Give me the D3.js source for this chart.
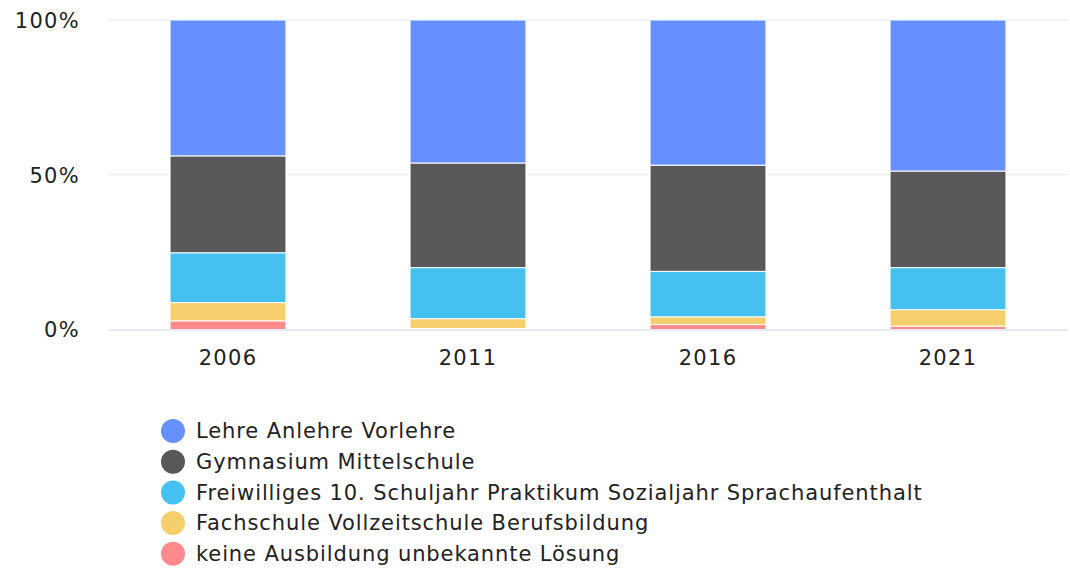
<!DOCTYPE html>
<html><head><meta charset="utf-8">
<script src="https://cdn.jsdelivr.net/npm/d3@7"></script>
<style>body{margin:0;background:#fff;} text{font-family:"DejaVu Sans",sans-serif;fill:#222;}</style>
</head><body><svg id="c" width="1070" height="570"></svg>
<script>
const categories = ["2006","2011","2016","2021"];
const seriesNames = ["Lehre Anlehre Vorlehre","Gymnasium Mittelschule","Freiwilliges 10. Schuljahr Praktikum Sozialjahr Sprachaufenthalt","Fachschule Vollzeitschule Berufsbildung","keine Ausbildung unbekannte Lösung"];
const lehre = [43.9, 46.2, 46.9, 48.8];
const gymnasium = [31.3, 33.8, 34.3, 31.2];
const freiwillig = [16.1, 16.5, 14.7, 13.6];
const fachschule = [5.9, 3.2, 2.5, 5.3];
const keine = [2.8, 0.3, 1.6, 1.1];
const colors = ["#6690ff","#58585a","#44c1f0","#f5cf6b","#ff8a8a"];
const yTicks = [0, 50, 100];

(function(){
const FONT = "DejaVu Sans";
const seriesVals = [lehre, gymnasium, freiwillig, fachschule, keine];
const rows = categories.map((c,i)=>{const o={cat:c}; seriesNames.forEach((s,j)=>o[s]=seriesVals[j][i]); return o;});
const stackOrder = seriesNames.slice().reverse();
const stack = d3.stack().keys(stackOrder).offset(d3.stackOffsetExpand)(rows);

const svg = d3.select("#c");
const pLeft=108, pRight=1068, pTop=20, pBottom=329.5;
const x = d3.scaleBand().domain(categories).range([pLeft,pRight]).paddingInner(0.517).paddingOuter(0.2585);
const y = d3.scaleLinear().domain([0,1]).range([pBottom,pTop]);

svg.append("g").selectAll("line").data(yTicks.filter(t=>t>0)).join("line")
 .attr("x1",pLeft).attr("x2",pRight).attr("y1",d=>y(d/100)).attr("y2",d=>y(d/100))
 .attr("stroke","#e6e6e6").attr("stroke-width",1);

const g = svg.append("g");
stack.forEach(layer=>{
  const col = colors[seriesNames.indexOf(layer.key)];
  g.append("g").selectAll("rect").data(layer).join("rect")
   .attr("x",d=>x(d.data.cat)).attr("width",x.bandwidth())
   .attr("y",d=>y(d[1])).attr("height",d=>Math.max(0,y(d[0])-y(d[1])))
   .attr("fill",col).attr("stroke","#fff").attr("stroke-width",1);
});

svg.append("line").attr("x1",pLeft).attr("x2",pRight).attr("y1",pBottom+0.5).attr("y2",pBottom+0.5).attr("stroke","#ccd6eb");

const yAxis = d3.axisLeft(y).tickValues(yTicks.map(t=>t/100)).tickFormat(d=>Math.round(d*100)+"%").tickSize(0).tickPadding(0);
const ya = svg.append("g").attr("transform","translate(80,0)").call(yAxis);
ya.select(".domain").remove();
ya.selectAll("text").attr("font-family",FONT).attr("font-size",21).attr("letter-spacing",1.3).attr("fill","#222").attr("dy","0.35em");

const xAxis = d3.axisBottom(x).tickSize(0).tickPadding(0);
const xa = svg.append("g").attr("transform","translate(0,350)").call(xAxis);
xa.select(".domain").remove();
xa.selectAll("text").attr("font-family",FONT).attr("font-size",21).attr("letter-spacing",1.3).attr("fill","#222");

const lg = svg.append("g");
seriesNames.forEach((s,i)=>{
  const cy = 431 + i*30.7;
  lg.append("circle").attr("cx",173).attr("cy",cy).attr("r",12).attr("fill",colors[i]);
  lg.append("text").attr("x",196).attr("y",cy).attr("dy","0.35em").attr("font-family",FONT).attr("font-size",21).attr("letter-spacing",0.9).attr("fill","#222").text(s);
});
})();
</script></body></html>
